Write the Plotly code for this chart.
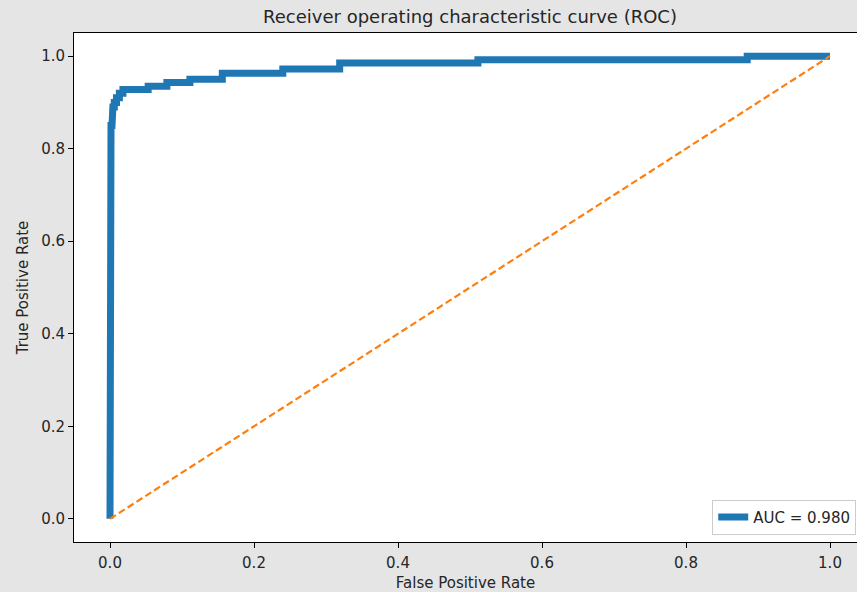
import plotly.graph_objects as go

# ROC curve points
fpr = [0.0, 0.0, 0.0014, 0.0014, 0.0028, 0.0028, 0.004, 0.004, 0.006, 0.006,
       0.009, 0.009, 0.013, 0.013, 0.018, 0.018, 0.053, 0.053, 0.079, 0.079,
       0.111, 0.111, 0.156, 0.156, 0.240, 0.240, 0.319, 0.319, 0.511, 0.511,
       0.885, 0.885, 1.0]
tpr = [0.0, 0.62, 0.62, 0.85, 0.85, 0.87, 0.87, 0.89, 0.89, 0.90,
       0.90, 0.91, 0.91, 0.92, 0.92, 0.928, 0.928, 0.935, 0.935, 0.943,
       0.943, 0.950, 0.950, 0.963, 0.963, 0.972, 0.972, 0.985, 0.985, 0.992,
       0.992, 1.0, 1.0]
diag_x = [0.0, 1.0]
diag_y = [0.0, 1.0]
auc_label = "AUC = 0.980"
tick_vals = [0.0, 0.2, 0.4, 0.6, 0.8, 1.0]
tick_text = ["0.0", "0.2", "0.4", "0.6", "0.8", "1.0"]

FONT = "DejaVu Sans"
TXT = "#262626"

fig = go.Figure()
fig.add_trace(go.Scatter(x=fpr, y=tpr, mode="lines", name=auc_label,
                         line=dict(color="#1f77b4", width=7)))
fig.add_trace(go.Scatter(x=diag_x, y=diag_y, mode="lines", showlegend=False,
                         line=dict(color="#ff7f0e", width=2.2, dash="7px,3.5px")))

fig.update_layout(
    width=857, height=592,
    margin=dict(l=74, r=0, t=33, b=50),
    paper_bgcolor="#e5e5e5",
    plot_bgcolor="white",
    font=dict(family=FONT, size=15, color=TXT),
    title=dict(text="Receiver operating characteristic curve (ROC)",
               x=(470) / 857, xanchor="center", xref="container",
               y=1 - 17 / 592, yanchor="middle", yref="container",
               font=dict(family=FONT, size=18, color=TXT)),
    legend=dict(x=0.999, y=0.014, xanchor="right", yanchor="bottom",
                bgcolor="white", bordercolor="#cccccc", borderwidth=1,
                font=dict(family=FONT, size=15, color=TXT)),
    showlegend=True,
)
fig.update_xaxes(range=[-0.05, 1.0375], tickvals=tick_vals, ticktext=tick_text,
                 showgrid=False, zeroline=False, showline=True, mirror=True,
                 linecolor="black", linewidth=1, ticks="outside", ticklen=5,
                 tickcolor="black", ticklabelstandoff=2,
                 title=dict(text="False Positive Rate", standoff=6,
                            font=dict(family=FONT, size=15, color=TXT)))
fig.update_yaxes(range=[-0.05, 1.05], tickvals=tick_vals, ticktext=tick_text,
                 showgrid=False, zeroline=False, showline=True, mirror=False,
                 linecolor="black", linewidth=1, ticks="outside", ticklen=5,
                 tickcolor="black",
                 title=dict(text="True Positive Rate", standoff=8,
                            font=dict(family=FONT, size=15, color=TXT)))

fig.write_html("out.html")
